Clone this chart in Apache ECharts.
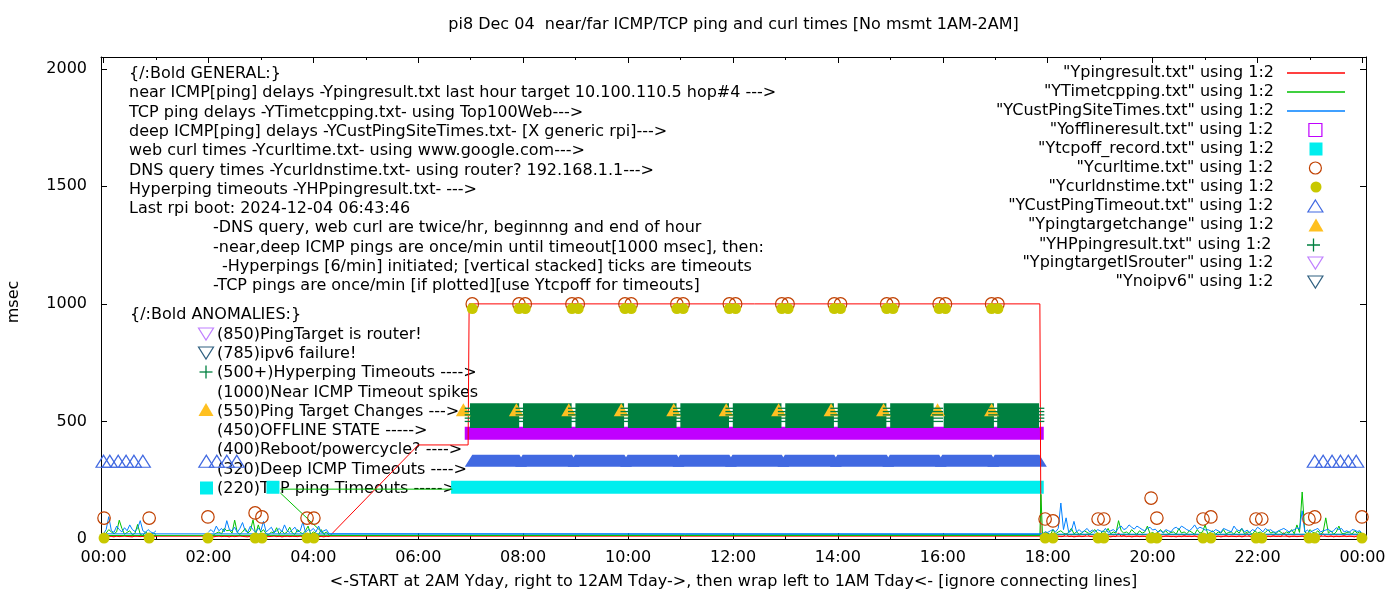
<!DOCTYPE html>
<html><head><meta charset="utf-8">
<script src="https://cdn.jsdelivr.net/npm/echarts@6/dist/echarts.min.js"></script>
<style>html,body{margin:0;padding:0;background:#fff}#c{width:1400px;height:600px}</style>
</head><body><div id="c"></div><script>
// ---------------- DATA ----------------
const xTickHours = [0,2,4,6,8,10,12,14,16,18,20,22,24];
const xMinorHours = [1,3,5,7,9,11,13,15,17,19,21,23];
const yTicks = [0,500,1000,1500,2000];

// measured segments (hours): A 00:00-01:00, B 02:00-04:18, C 17:54-24:00 (3-min samples)
const segA = [0.0, 1.0];
const segB = [2.0, 4.3];
const segC = [17.9, 24.0];

const nearA = [12,10,14,11,9,13,10,12,15,11,10,9,13,12,10,11,14,10,12,11,12];
const nearB = [10,12,9,11,14,10,12,11,9,13,10,12,16,11,10,9,12,14,10,11,13,9,12,10,11,15,10,12,9,11,13,10,12,11,10,14,9,12,11,10,13,12,10,11,9,12,10];
const nearOutage = [[6.0,400],[6.95,400],[6.97,1000],[17.85,1000],[17.87,12]];
const nearC = [14,12,10,11,13,9,12,10,11,24, 10,12,9,11,13,10,12,22,11,10, 9,12,14,10,11,13,9,12,10,26,
  11,15,10,12,9,11,13,10,12,11, 10,14,9,12,28,11,10,13,12,10, 11,9,12,10,14,11,12,10,13,9,
  11,25,12,10,11,13,10,12,9,11, 14,10,12,11,10,13,9,12,24,11, 10,12,13,10,11,9,12,10,14,11,
  12,10,27,13,9,11,12,10,11,13, 10,12,9,11,14,10,12,23,11,10, 13,9,12,10,11,14,10,12,11,9, 13,12,12];

const tcpA = [15,25,40,30,22,30,80,45,20,28,35,18,24,62,20,15,30,22,18,25,20];
const tcpB = [20,15,18,25,30,22,45,35,38,25, 80,28,20,30,45,25,35,82,20,60, 28,40,22,18,30,25,48,20,35,22,
  30,50,25,20,40,28,22,35,55,20, 30,25,18,40,22,30,15];
const tcpPreC = [[17.85,15],[17.87,190]];
const tcpC = [20,30,25,18,40,22,30,35,25,20, 28,45,22,30,20,25,35,28,22,30, 40,25,20,35,28,45,22,30,25,78,
  35,25,30,22,40,28,20,35,25,30, 55,22,28,20,30,40,25,35,22,28, 30,20,45,25,30,22,35,28,20,40,
  25,30,60,22,28,35,20,30,25,40, 22,28,30,20,35,25,45,22,30,28, 20,35,25,30,22,28,40,25,30,22,
  35,28,20,30,25,40,22,60,28,200, 30,22,40,28,25,35,20,30,90,25, 35,20,30,55,25,22,28,30,20,35, 25,30,20];
const tcpExtra = [[3.37,212],[6.65,212],[6.65,null],[3.37,196],[4.22,17]];

const deepA = [22,40,95,35,28,55,40,30,48,35,60,40,32,45,78,35,28,40,30,25,35];
const deepB = [30,40,28,55,35,45,30,78,40,35, 50,28,45,70,35,30,55,40,28,45, 35,75,30,40,50,28,35,45,30,60,
  35,28,40,50,30,35,72,28,40,35, 45,30,55,28,35,40,22];
const deepC = [22,30,28,35,40,30,45,153,40,90, 28,35,75,30,40,28,35,45,30,38, 28,40,35,30,45,28,35,40,30,48,
  55,40,45,60,50,42,55,48,40,35, 45,50,38,42,30,35,28,40,35,30, 45,50,40,55,48,40,35,45,60,42,
  50,45,38,40,35,30,40,35,28,45, 40,35,30,55,40,35,45,30,38,28, 40,35,50,42,30,45,35,40,30,28,
  35,40,45,38,30,35,40,48,42,120, 30,38,28,35,40,45,30,35,38,42, 30,35,48,40,45,30,35,28,40,38, 32,35,20];

// runs [start, end, value] (one sample per minute inside each run)
const offlineRuns = [[7.01,17.80,450]];
const tcpOffRuns = [[3.23,3.23,220],[6.75,17.80,220]];
const deepTimeoutRuns = [[7.03,7.93,320],[7.99,8.93,320],[8.99,9.93,320],[9.99,10.93,320],[10.99,11.93,320],
  [11.99,12.93,320],[12.99,13.93,320],[13.99,14.93,320],[14.99,15.93,320],[15.99,16.93,320],[16.99,17.84,320]];
const deepTimeoutPts = [[0.0,320],[0.12,320],[0.28,320],[0.43,320],[0.58,320],[0.75,320],
  [1.96,320],[2.16,320],[2.35,320],[2.54,320],
  [23.09,320],[23.25,320],[23.42,320],[23.58,320],[23.73,320],[23.88,320]];
const hpLevels = [500,550];
const hpRuns = [[7.11,7.80],[8.12,8.80],[9.12,9.80],[10.12,10.80],[11.12,11.80],[12.12,12.80],
  [13.12,13.80],[14.12,14.80],[15.12,15.70],[16.14,16.85],[17.16,17.71]];
const hpEdgeTimes = [6.99,7.96,8.96,9.96,10.96,11.96,12.96,13.96,14.96,15.90,16.97,17.83];
const hpEdgeLevels = [500,514,528,542,556];
const targetChangePts = [[6.86,550],[7.87,550],[8.87,550],[9.87,550],[10.87,550],[11.87,550],
  [12.87,550],[13.87,550],[14.87,550],[15.90,550],[16.93,550]];
const curlPts = [[0.01,89],[0.87,89],[1.99,94],[2.89,111],[3.02,94],[3.88,89],[4.01,89],
  [7.03,1000],[7.92,1000],[8.04,1000],[8.93,1000],[9.05,1000],[9.94,1000],[10.06,1000],[10.93,1000],[11.05,1000],
  [11.93,1000],[12.05,1000],[12.93,1000],[13.05,1000],[13.93,1000],[14.05,1000],[14.93,1000],[15.05,1000],
  [15.93,1000],[16.05,1000],[16.93,1000],[17.05,1000],
  [17.95,85],[18.10,77],[18.96,85],[19.07,85],[19.97,174],[20.08,89],[20.96,85],[21.11,94],[21.97,85],
  [22.08,85],[22.98,85],[23.09,94],[23.99,94]];
const dnsPts = [[0.01,4],[0.87,4],[1.99,4],[2.89,4],[3.02,4],[3.88,4],[4.01,4],
  [7.03,980],[7.92,980],[8.04,980],[8.93,980],[9.05,980],[9.94,980],[10.06,980],[10.93,980],[11.05,980],
  [11.93,980],[12.05,980],[12.93,980],[13.05,980],[13.93,980],[14.05,980],[14.93,980],[15.05,980],
  [15.93,980],[16.05,980],[16.93,980],[17.05,980],
  [17.95,4],[18.10,4],[18.96,4],[19.07,4],[19.97,4],[20.08,4],[20.96,4],[21.11,4],[21.97,4],
  [22.08,4],[22.98,4],[23.09,4],[23.99,4]];
const routerPts = [];
const noipv6Pts = [];

const titleText = 'pi8 Dec 04  near/far ICMP/TCP ping and curl times [No msmt 1AM-2AM]';
const xTitle = '<-START at 2AM Yday, right to 12AM Tday->, then wrap left to 1AM Tday<- [ignore connecting lines]';
const yTitle = 'msec';
const generalLines = [
  '{/:Bold GENERAL:}',
  'near ICMP[ping] delays -Ypingresult.txt last hour target 10.100.110.5 hop#4 --->',
  'TCP ping delays -YTimetcpping.txt- using Top100Web--->',
  'deep ICMP[ping] delays -YCustPingSiteTimes.txt- [X generic rpi]--->',
  'web curl times -Ycurltime.txt- using www.google.com--->',
  'DNS query times -Ycurldnstime.txt- using router? 192.168.1.1--->',
  'Hyperping timeouts -YHPpingresult.txt- --->',
  'Last rpi boot: 2024-12-04 06:43:46',
  '-DNS query, web curl are twice/hr, beginnng and end of hour',
  '-near,deep ICMP pings are once/min until timeout[1000 msec], then:',
  '-Hyperpings [6/min] initiated; [vertical stacked] ticks are timeouts',
  '-TCP pings are once/min [if plotted][use Ytcpoff for timeouts]'
];
const anomalyLines = [
  '{/:Bold ANOMALIES:}',
  '(850)PingTarget is router!',
  '(785)ipv6 failure!',
  '(500+)Hyperping Timeouts ---->',
  '(1000)Near ICMP Timeout spikes',
  '(550)Ping Target Changes --->',
  '(450)OFFLINE STATE ----->',
  '(400)Reboot/powercycle? ---->',
  '(320)Deep ICMP Timeouts ---->',
  '(220)TCP ping Timeouts ----->'
];
const names = ['"Ypingresult.txt" using 1:2','"YTimetcpping.txt" using 1:2','"YCustPingSiteTimes.txt" using 1:2',
  '"Yofflineresult.txt" using 1:2','"Ytcpoff_record.txt" using 1:2','"Ycurltime.txt" using 1:2',
  '"Ycurldnstime.txt" using 1:2','"YCustPingTimeout.txt" using 1:2','"Ypingtargetchange" using 1:2',
  '"YHPpingresult.txt" using 1:2','"YpingtargetISrouter" using 1:2','"Ynoipv6" using 1:2'];

// ---------------- BUILD ----------------
const FONT = 'DejaVu Sans';
const FS = 16;
const C = {red:'#ff0000', tcp:'#00c000', deep:'#0080ff', off:'#c000ff', tcpoff:'#00eeee', curl:'#c04000',
  dns:'#c8c800', to:'#4169e1', chg:'#ffc020', hp:'#008040', router:'#c080ff', v6:'#306080'};

function seg(range, vals){ const n = vals.length; return vals.map((v,i)=>[range[0]+(range[1]-range[0])*i/(n-1), v]); }
const GAP = [null,null];
const nearData = [...seg(segB,nearB), ...nearOutage, ...seg(segC,nearC), ...seg(segA,nearA)];
const tcpData = [...seg(segB,tcpB), ...tcpPreC, ...seg(segC,tcpC), ...seg(segA,tcpA), GAP, ...tcpExtra];
const deepData = [...seg(segB,deepB), ...seg(segC,deepC), ...seg(segA,deepA)];
const hpRunData = hpRuns.map(r=>[r[0],r[1],hpLevels[0],hpLevels[1]]);
const hpEdgeData = [];
hpEdgeTimes.forEach(t=>hpEdgeLevels.forEach(v=>hpEdgeData.push([t,v])));

function runRect(halfW, halfH, color){
  return function(params, api){
    const v = api.value(2);
    const p0 = api.coord([api.value(0), v]), p1 = api.coord([api.value(1), v]);
    return {type:'rect', shape:{x:p0[0]-halfW, y:p0[1]-halfH, width:p1[0]-p0[0]+2*halfW, height:2*halfH}, style:{fill:color}};
  };
}
function runTri(halfW, up, down, color){
  return function(params, api){
    const v = api.value(2);
    const p0 = api.coord([api.value(0), v]), p1 = api.coord([api.value(1), v]);
    return {type:'polygon', shape:{points:[[p0[0]-halfW,p0[1]+down],[p0[0],p0[1]-up],[p1[0],p1[1]-up],[p1[0]+halfW,p1[1]+down]]}, style:{fill:color}};
  };
}
function hpRender(params, api){
  const p0 = api.coord([api.value(0), api.value(3)]), p1 = api.coord([api.value(1), api.value(2)]);
  return {type:'rect', shape:{x:p0[0]-6.5, y:p0[1]-6.5, width:p1[0]-p0[0]+13, height:p1[1]-p0[1]+13}, style:{fill:C.hp}};
}

const pad = h => { h = h % 24; return (h<10?'0':'')+h+':00'; };
const XMIN = -0.048, XMAX = 24.067, YMIN = 0, YMAX = 2050;
const black = {color:'#000', width:1};
function xAx(pos, ticks, len, line, labels){
  return {type:'value', position:pos, min:XMIN, max:XMAX,
    axisLine:{show:line, onZero:false, lineStyle:black},
    axisTick:{show:true, inside:true, length:len, customValues:ticks, lineStyle:black},
    axisLabel:{show:labels, customValues:ticks, formatter:pad, color:'#000', fontFamily:FONT, fontSize:FS, margin:11},
    splitLine:{show:false}};
}
function yAx(pos, labels){
  return {type:'value', position:pos, min:YMIN, max:YMAX,
    axisLine:{show:true, onZero:false, lineStyle:black},
    axisTick:{show:true, inside:true, length:6, customValues:yTicks, lineStyle:black},
    axisLabel:{show:labels, customValues:yTicks, formatter:v=>String(v), color:'#000', fontFamily:FONT, fontSize:FS, margin:14},
    splitLine:{show:false}};
}

const openSym = col => ({color:'transparent', borderColor:col, borderWidth:1.2, opacity:1});
const fillSym = col => ({color:col, borderWidth:0, opacity:1});
const downTri = 'path://M0,0L15,0L7.5,12Z';
const plusPath = 'path://M0,6.5L13,6.5M6.5,0L6.5,13';
const legendDefs = [
  {icon:'rect', w:58, h:1.4, style:fillSym(C.red), line:true},
  {icon:'rect', w:58, h:1.4, style:fillSym(C.tcp), line:true},
  {icon:'rect', w:58, h:1.4, style:fillSym(C.deep), line:true},
  {icon:'rect', w:13, h:13, style:openSym(C.off)},
  {icon:'rect', w:13, h:13, style:fillSym(C.tcpoff)},
  {icon:'circle', w:12, h:12, style:openSym(C.curl)},
  {icon:'circle', w:11, h:11, style:fillSym(C.dns)},
  {icon:'triangle', w:15, h:12, style:openSym(C.to)},
  {icon:'triangle', w:15, h:13, style:fillSym(C.chg)},
  {icon:plusPath, w:13, h:13, style:{color:'none', borderColor:C.hp, borderWidth:1.3}},
  {icon:downTri, w:15, h:12, style:openSym(C.router)},
  {icon:downTri, w:15, h:12, style:openSym(C.v6)}
];
const legends = legendDefs.map((d,i)=>{
  const cy = 71 + 19*i;
  const iconLeft = d.line ? 1287 : 1316 - d.w/2;
  const item = {name:names[i], icon:d.icon, itemStyle:d.style};
  return {data:[item], orient:'horizontal', align:'right', padding:0, selectedMode:false,
    right: 1400 - (iconLeft + d.w), top: cy - 6,
    itemWidth:d.w, itemHeight:d.h, itemStyle:d.style,
    textStyle:{fontFamily:FONT, fontSize:FS, color:'#000', padding:[0, iconLeft - 5 - 1274, 0, 0]}};
});

const tf = `${FS}px "${FONT}"`;
const g = [];
g.push({type:'text', x:733.5, y:25, z:0, style:{text:titleText, font:tf, fill:'#000', align:'center', verticalAlign:'middle'}});
g.push({type:'text', x:733.5, y:582, z:0, style:{text:xTitle, font:tf, fill:'#000', align:'center', verticalAlign:'middle'}});
g.push({type:'text', x:14, y:302, rotation:Math.PI/2, z:0, style:{text:yTitle, font:tf, fill:'#000', align:'center', verticalAlign:'middle'}});
const genX = [129,129,129,129,129,129,129,129,213,213,222,213];
generalLines.forEach((s,i)=>g.push({type:'text', x:genX[i], y:74+19.27*i, z:0, style:{text:s, font:tf, fill:'#000', align:'left', verticalAlign:'middle'}}));
anomalyLines.forEach((s,i)=>g.push({type:'text', x:i===0?130:217, y:i===0?314.5:334.5+19.3*(i-1), z:0, style:{text:s, font:tf, fill:'#000', align:'left', verticalAlign:'middle'}}));
// key glyphs in anomalies block
g.push({type:'polygon', z:0, shape:{points:[[198.5,328],[213.5,328],[206,340]]}, style:{fill:'none', stroke:C.router, lineWidth:1.2}});
g.push({type:'polygon', z:0, shape:{points:[[198.5,347],[213.5,347],[206,359]]}, style:{fill:'none', stroke:C.v6, lineWidth:1.2}});
g.push({type:'polyline', z:0, shape:{points:[[199.5,372],[212.5,372]]}, style:{stroke:C.hp, lineWidth:1.3}});
g.push({type:'polyline', z:0, shape:{points:[[206,365.5],[206,378.5]]}, style:{stroke:C.hp, lineWidth:1.3}});
g.push({type:'polygon', z:0, shape:{points:[[198.5,416],[213.5,416],[206,403]]}, style:{fill:C.chg}});
g.push({type:'rect', z:0, shape:{x:200, y:481.5, width:13, height:13}, style:{fill:C.tcpoff}});

const lineS = (name, data, color) => ({type:'line', name, data, showSymbol:false, symbol:'none', z:2,
  lineStyle:{color, width:1}, itemStyle:{color}, connectNulls:false, emphasis:{disabled:true}, silent:true});
const scat = (name, data, symbol, size, style, offset) => ({type:'scatter', name, data, symbol, symbolSize:size,
  symbolOffset:offset||[0,0], itemStyle:style, z:2, emphasis:{disabled:true}, silent:true});
const cust = (name, data, render, color, enc) => ({type:'custom', name, data, renderItem:render, z:2,
  encode:enc||{x:[0,1], y:2}, itemStyle:{color}, silent:true});

const option = {
  animation:false,
  grid:{left:101, right:34, top:57, bottom:61, containLabel:false, outerBoundsMode:'none'},
  xAxis:[xAx('bottom', xTickHours, 6, true, true), xAx('bottom', xMinorHours, 3, false, false),
         xAx('top', xTickHours, 6, true, false), xAx('top', xMinorHours, 3, false, false)],
  yAxis:[yAx('left', true), yAx('right', false)],
  legend:legends,
  graphic:{elements:g},
  series:[
    lineS(names[0], nearData, C.red),
    lineS(names[1], tcpData, C.tcp),
    lineS(names[2], deepData, C.deep),
    cust(names[3], offlineRuns, runRect(6.5,6.5,C.off), C.off),
    cust(names[4], tcpOffRuns, runRect(6.5,6.5,C.tcpoff), C.tcpoff),
    scat(names[5], curlPts, 'circle', 12.5, openSym(C.curl)),
    scat(names[6], dnsPts, 'circle', 11, fillSym(C.dns)),
    scat(names[7], deepTimeoutPts, 'triangle', [15,12], openSym(C.to), [0,-2.5]),
    cust(names[7], deepTimeoutRuns, runTri(7.5, 9, 3, C.to), C.to),
    scat(names[8], targetChangePts, 'triangle', [15,13], fillSym(C.chg), [0,0]),
    cust(names[9], hpRunData, hpRender, C.hp, {x:[0,1], y:[2,3]}),
    scat(names[9], hpEdgeData, 'rect', [11,1.3], fillSym(C.hp)),
    scat(names[10], routerPts, downTri, [15,12], openSym(C.router), [0,3]),
    scat(names[11], noipv6Pts, downTri, [15,12], openSym(C.v6), [0,3])
  ]
};
const chart = echarts.init(document.getElementById('c'), null, {renderer:'canvas'});
chart.setOption(option);
</script></body></html>
